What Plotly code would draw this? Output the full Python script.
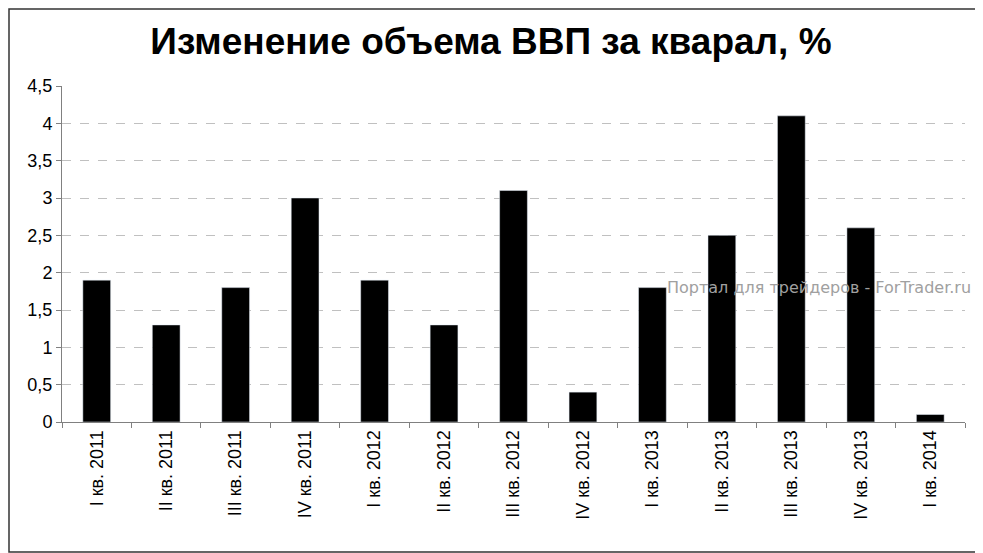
import plotly.graph_objects as go

categories = ["I кв. 2011","II кв. 2011","III кв. 2011","IV кв. 2011","I кв. 2012","II кв. 2012",
              "III кв. 2012","IV кв. 2012","I кв. 2013","II кв. 2013","III кв. 2013","IV кв. 2013","I кв. 2014"]
values = [1.9,1.3,1.8,3.0,1.9,1.3,3.1,0.4,1.8,2.5,4.1,2.6,0.1]
tick_vals = [0,0.5,1,1.5,2,2.5,3,3.5,4,4.5]
tick_text = ["0","0,5","1","1,5","2","2,5","3","3,5","4","4,5"]

fig = go.Figure(go.Bar(x=categories, y=values, marker_color="black", width=0.4))
fig.update_layout(
    width=975, height=545, margin=dict(l=54, r=18, t=78, b=131),
    paper_bgcolor="white", plot_bgcolor="white",
    font=dict(family="Liberation Sans, Arial", color="black"),
    title=dict(text="<b>Изменение объема ВВП за кварал, %</b>", x=0.475, xref="paper",
               xanchor="center", y=1 - 33/545, yanchor="middle", font=dict(size=37)),
    showlegend=False,
    shapes=[dict(type="rect", xref="paper", yref="paper", x0=-53/903, x1=1+16/903,
                 y0=-130/336, y1=1+77/336, line=dict(color="#333", width=1.5))],
    annotations=[dict(text="Портал для трейдеров - ForTrader.ru", xref="paper", yref="paper",
                      x=0.668, y=0.40, xanchor="left", yanchor="middle", showarrow=False,
                      font=dict(size=16, color="#a0a0a0", family="DejaVu Sans"))],
)
fig.update_yaxes(range=[0,4.5], tickvals=tick_vals, ticktext=tick_text, showgrid=True, automargin=False,
                 gridcolor="#c0c0c0", griddash="dash", showline=True, linecolor="#808080",
                 ticks="outside", ticklen=5, tickcolor="#808080", tickfont=dict(size=18), zeroline=False)
fig.update_xaxes(tickangle=-90, showline=True, linecolor="#808080", ticks="outside", automargin=False,
                 tickson="boundaries", ticklen=5, tickcolor="#808080", tickfont=dict(size=18))
fig.write_html("out.html")
